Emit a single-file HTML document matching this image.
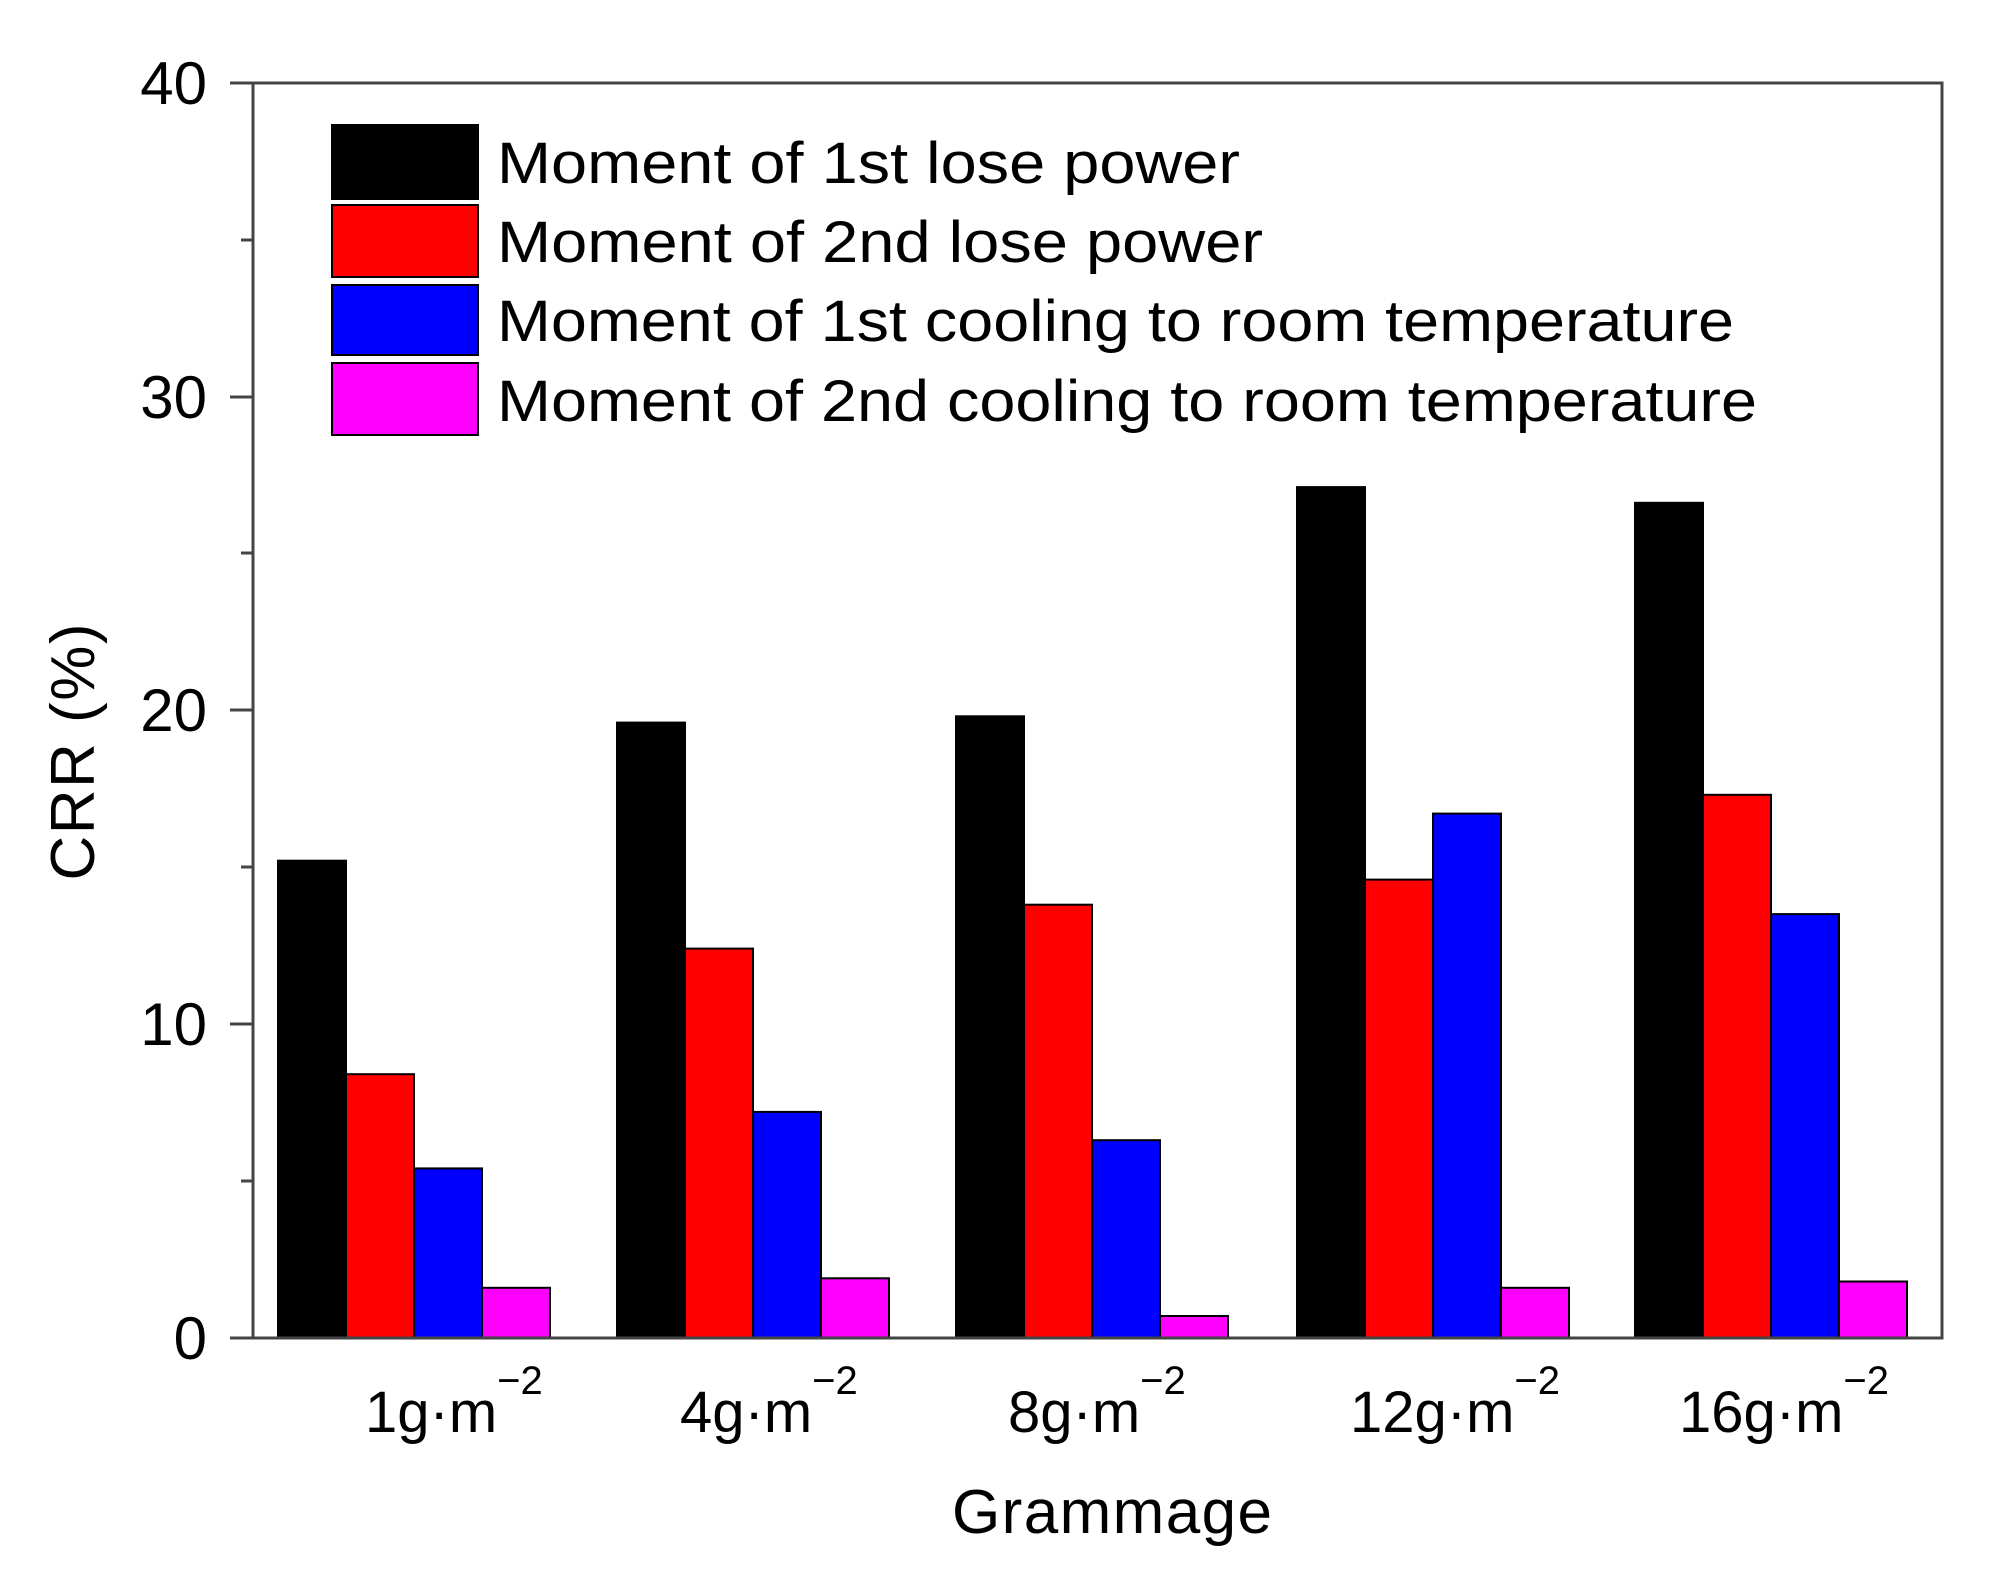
<!DOCTYPE html>
<html><head><meta charset="utf-8"><style>html,body{margin:0;padding:0;background:#fff}svg{display:block}</style></head>
<body>
<svg width="1990" height="1576" viewBox="0 0 1990 1576" xmlns="http://www.w3.org/2000/svg" font-family="Liberation Sans, Arial, sans-serif">
<rect width="1990" height="1576" fill="#fff"/>
<g stroke="#000" stroke-width="2">
<!-- group 1 -->
<rect x="278" y="860.7" width="68" height="477.3" fill="#000"/>
<rect x="346" y="1074.2" width="68" height="263.8" fill="#f00"/>
<rect x="414" y="1168.4" width="68" height="169.6" fill="#00f"/>
<rect x="482" y="1287.8" width="68" height="50.2" fill="#f0f"/>
<!-- group 2 -->
<rect x="617" y="722.6" width="68" height="615.4" fill="#000"/>
<rect x="685" y="948.6" width="68" height="389.4" fill="#f00"/>
<rect x="753" y="1111.9" width="68" height="226.1" fill="#00f"/>
<rect x="821" y="1278.3" width="68" height="59.7" fill="#f0f"/>
<!-- group 3 -->
<rect x="956" y="716.3" width="68" height="621.7" fill="#000"/>
<rect x="1024" y="904.7" width="68" height="433.3" fill="#f00"/>
<rect x="1092" y="1140.2" width="68" height="197.8" fill="#00f"/>
<rect x="1160" y="1316.0" width="68" height="22" fill="#f0f"/>
<!-- group 4 -->
<rect x="1297" y="487.1" width="68" height="850.9" fill="#000"/>
<rect x="1365" y="879.6" width="68" height="458.4" fill="#f00"/>
<rect x="1433" y="813.6" width="68" height="524.4" fill="#00f"/>
<rect x="1501" y="1287.8" width="68" height="50.2" fill="#f0f"/>
<!-- group 5 -->
<rect x="1635" y="502.8" width="68" height="835.2" fill="#000"/>
<rect x="1703" y="794.8" width="68" height="543.2" fill="#f00"/>
<rect x="1771" y="914.1" width="68" height="423.9" fill="#00f"/>
<rect x="1839" y="1281.5" width="68" height="56.5" fill="#f0f"/>
</g>
<!-- axes -->
<g stroke="#444" stroke-width="3" fill="none">
<rect x="253" y="83" width="1689" height="1255"/>
<line x1="230" y1="83" x2="253" y2="83"/>
<line x1="230" y1="397" x2="253" y2="397"/>
<line x1="230" y1="710" x2="253" y2="710"/>
<line x1="230" y1="1024" x2="253" y2="1024"/>
<line x1="230" y1="1338" x2="253" y2="1338"/>
<line x1="241" y1="240" x2="253" y2="240"/>
<line x1="241" y1="553" x2="253" y2="553"/>
<line x1="241" y1="867" x2="253" y2="867"/>
<line x1="241" y1="1181" x2="253" y2="1181"/>
</g>
<g font-size="60" text-anchor="end" fill="#000">
<text x="207" y="104">40</text>
<text x="207" y="418">30</text>
<text x="207" y="731">20</text>
<text x="207" y="1045">10</text>
<text x="207" y="1359">0</text>
</g>
<text transform="translate(94,752) rotate(-90)" font-size="62" text-anchor="middle" textLength="257">CRR (%)</text>
<!-- legend -->
<g stroke="#000" stroke-width="2">
<rect x="332" y="125" width="146" height="74" fill="#000"/>
<rect x="332" y="205" width="146" height="72" fill="#f00"/>
<rect x="332" y="285" width="146" height="70" fill="#00f"/>
<rect x="332" y="363" width="146" height="72" fill="#f0f"/>
</g>
<g font-size="58" fill="#000">
<text x="497" y="183" textLength="743" lengthAdjust="spacingAndGlyphs">Moment of 1st lose power</text>
<text x="497" y="262" textLength="766" lengthAdjust="spacingAndGlyphs">Moment of 2nd lose power</text>
<text x="497" y="341" textLength="1237" lengthAdjust="spacingAndGlyphs">Moment of 1st cooling to room temperature</text>
<text x="497" y="421" textLength="1260" lengthAdjust="spacingAndGlyphs">Moment of 2nd cooling to room temperature</text>
</g>
<!-- x labels -->
<g font-size="58" fill="#000">
<text x="365" y="1432">1g·m<tspan font-size="40" dy="-38">−2</tspan></text>
<text x="680" y="1432">4g·m<tspan font-size="40" dy="-38">−2</tspan></text>
<text x="1008" y="1432">8g·m<tspan font-size="40" dy="-38">−2</tspan></text>
<text x="1350" y="1432">12g·m<tspan font-size="40" dy="-38">−2</tspan></text>
<text x="1679" y="1432">16g·m<tspan font-size="40" dy="-38">−2</tspan></text>
</g>
<text x="1112" y="1533" font-size="62" text-anchor="middle" textLength="320">Grammage</text>
</svg>
</body></html>
